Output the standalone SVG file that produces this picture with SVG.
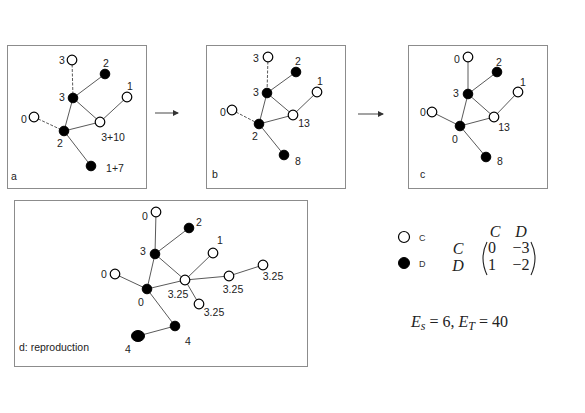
<svg xmlns="http://www.w3.org/2000/svg" width="585" height="413" viewBox="0 0 585 413">
<defs>
<marker id="ah" markerWidth="6" markerHeight="6" refX="5" refY="3" orient="auto" markerUnits="userSpaceOnUse">
<path d="M0,0 L6,3 L0,6 z" fill="#333"/>
</marker>
<style>
.box{fill:#fff;stroke:#8c8c8c;stroke-width:1}
.e{stroke:#5a5a5a;stroke-width:1;fill:none}
.ed{stroke:#5a5a5a;stroke-width:1;fill:none;stroke-dasharray:3,1.5}
.w{fill:#fff;stroke:#000;stroke-width:1.2}
.b{fill:#000;stroke:#000;stroke-width:1}
.t{font-family:"Liberation Sans",Arial,sans-serif;font-size:10.5px;fill:#222;text-anchor:middle}
.tl{font-family:"Liberation Sans",Arial,sans-serif;font-size:10.5px;fill:#222}
.lg{font-family:"Liberation Sans",Arial,sans-serif;font-size:9px;fill:#333}
.m{font-family:"Liberation Serif","Times New Roman",serif;font-size:16px;fill:#222}
.mi{font-family:"Liberation Serif","Times New Roman",serif;font-size:16px;fill:#222;font-style:italic}
</style>
</defs>
<rect width="585" height="413" fill="#fff"/>
<g id="frames">
<rect class="box" x="7.5" y="45.5" width="139" height="143"/>
<rect class="box" x="206.5" y="45.5" width="139" height="143"/>
<rect class="box" x="408.5" y="45.5" width="139" height="143"/>
<rect class="box" x="14.5" y="200.5" width="293" height="166"/>
</g>
<g id="connectors">
<line class="ed" x1="72" y1="60" x2="73" y2="98"/>
<line class="e" x1="105" y1="74" x2="73" y2="98"/>
<line class="e" x1="73" y1="98" x2="100" y2="122"/>
<line class="e" x1="100" y1="122" x2="127" y2="97"/>
<line class="e" x1="73" y1="98" x2="64" y2="131"/>
<line class="ed" x1="34" y1="117" x2="64" y2="131"/>
<line class="e" x1="64" y1="131" x2="100" y2="122"/>
<line class="e" x1="64" y1="131" x2="91" y2="166"/>

<line class="ed" x1="268" y1="57" x2="267" y2="93"/>
<line class="e" x1="296" y1="72" x2="267" y2="93"/>
<line class="e" x1="267" y1="93" x2="293" y2="115"/>
<line class="e" x1="293" y1="115" x2="317" y2="92"/>
<line class="e" x1="267" y1="93" x2="259" y2="124"/>
<line class="ed" x1="232" y1="110" x2="259" y2="124"/>
<line class="e" x1="259" y1="124" x2="293" y2="115"/>
<line class="e" x1="259" y1="124" x2="284" y2="155"/>

<line class="e" x1="468" y1="57" x2="468" y2="94"/>
<line class="e" x1="497" y1="72" x2="468" y2="94"/>
<line class="e" x1="468" y1="94" x2="494" y2="117"/>
<line class="e" x1="494" y1="117" x2="518" y2="92"/>
<line class="e" x1="468" y1="94" x2="460" y2="126"/>
<line class="e" x1="432" y1="112" x2="460" y2="126"/>
<line class="e" x1="460" y1="126" x2="494" y2="117"/>
<line class="e" x1="460" y1="126" x2="486" y2="157"/>

<line class="e" x1="156" y1="212" x2="155" y2="254"/>
<line class="e" x1="189" y1="228" x2="155" y2="254"/>
<line class="e" x1="155" y1="254" x2="185" y2="280"/>
<line class="e" x1="155" y1="254" x2="147" y2="289"/>
<line class="e" x1="213" y1="253" x2="185" y2="280"/>
<line class="e" x1="115" y1="274" x2="147" y2="289"/>
<line class="e" x1="147" y1="289" x2="185" y2="280"/>
<line class="e" x1="185" y1="280" x2="229" y2="276"/>
<line class="e" x1="229" y1="276" x2="263" y2="265"/>
<line class="e" x1="185" y1="280" x2="199" y2="304"/>
<line class="e" x1="147" y1="289" x2="175" y2="326"/>
<line class="e" x1="175" y1="326" x2="138" y2="336"/>

<line x1="155" y1="113" x2="178" y2="113" stroke="#666" stroke-width="1.2" marker-end="url(#ah)"/>
<line x1="358" y1="114" x2="383" y2="114" stroke="#666" stroke-width="1.2" marker-end="url(#ah)"/>
</g>
<g id="panel-a">
<g id="a-n1"><circle class="w" cx="72" cy="60" r="4.8"/><text class="t" x="62" y="64">3</text></g>
<g id="a-n2"><circle class="b" cx="105" cy="74" r="4.8"/><text class="t" x="106" y="67">2</text></g>
<g id="a-n3"><circle class="b" cx="73" cy="98" r="4.8"/><text class="t" x="62" y="101">3</text></g>
<g id="a-n4"><circle class="w" cx="127" cy="97" r="4.8"/><text class="t" x="130" y="90">1</text></g>
<g id="a-n5"><circle class="w" cx="34" cy="117" r="4.8"/><text class="t" x="24" y="123">0</text></g>
<g id="a-n6"><circle class="w" cx="100" cy="122" r="4.8"/><text class="t" x="113" y="141">3+10</text></g>
<g id="a-n7"><circle class="b" cx="64" cy="131" r="4.8"/><text class="t" x="60" y="147">2</text></g>
<g id="a-n8"><circle class="b" cx="91" cy="166" r="4.8"/><text class="t" x="115" y="172">1+7</text></g>
<text class="tl" x="11" y="180">a</text>
</g>
<g id="panel-b">
<g id="b-n1"><circle class="w" cx="268" cy="57" r="4.8"/><text class="t" x="256" y="62">3</text></g>
<g id="b-n2"><circle class="b" cx="296" cy="72" r="4.8"/><text class="t" x="298" y="65">2</text></g>
<g id="b-n3"><circle class="b" cx="267" cy="93" r="4.8"/><text class="t" x="256" y="96">3</text></g>
<g id="b-n4"><circle class="w" cx="317" cy="92" r="4.8"/><text class="t" x="320" y="85">1</text></g>
<g id="b-n5"><circle class="w" cx="232" cy="110" r="4.8"/><text class="t" x="223" y="116">0</text></g>
<g id="b-n6"><circle class="w" cx="293" cy="115" r="4.8"/><text class="t" x="304" y="127">13</text></g>
<g id="b-n7"><circle class="b" cx="259" cy="124" r="4.8"/><text class="t" x="255" y="140">2</text></g>
<g id="b-n8"><circle class="b" cx="284" cy="155" r="4.8"/><text class="t" x="298" y="165">8</text></g>
<text class="tl" x="212" y="178">b</text>
</g>
<g id="panel-c">
<g id="c-n1"><circle class="w" cx="468" cy="57" r="4.8"/><text class="t" x="457" y="63">0</text></g>
<g id="c-n2"><circle class="b" cx="497" cy="72" r="4.8"/><text class="t" x="499" y="66">2</text></g>
<g id="c-n3"><circle class="b" cx="468" cy="94" r="4.8"/><text class="t" x="456" y="97">3</text></g>
<g id="c-n4"><circle class="w" cx="518" cy="92" r="4.8"/><text class="t" x="523" y="86">1</text></g>
<g id="c-n5"><circle class="w" cx="432" cy="112" r="4.8"/><text class="t" x="423" y="116">0</text></g>
<g id="c-n6"><circle class="w" cx="494" cy="117" r="4.8"/><text class="t" x="504" y="131">13</text></g>
<g id="c-n7"><circle class="b" cx="460" cy="126" r="4.8"/><text class="t" x="455" y="143">0</text></g>
<g id="c-n8"><circle class="b" cx="486" cy="157" r="4.8"/><text class="t" x="500" y="165">8</text></g>
<text class="tl" x="420" y="178">c</text>
</g>
<g id="panel-d">
<g id="d-n1"><circle class="w" cx="156" cy="212" r="4.8"/><text class="t" x="145" y="220">0</text></g>
<g id="d-n2"><circle class="b" cx="189" cy="228" r="4.8"/><text class="t" x="199" y="226">2</text></g>
<g id="d-n3"><circle class="b" cx="155" cy="254" r="4.8"/><text class="t" x="143" y="255">3</text></g>
<g id="d-n4"><circle class="w" cx="213" cy="253" r="4.8"/><text class="t" x="220" y="244">1</text></g>
<g id="d-n5"><circle class="w" cx="115" cy="274" r="4.8"/><text class="t" x="104" y="278">0</text></g>
<g id="d-n6"><circle class="w" cx="185" cy="280" r="4.8"/><text class="t" x="178" y="298">3.25</text></g>
<g id="d-n7"><circle class="w" cx="229" cy="276" r="4.8"/><text class="t" x="233" y="293">3.25</text></g>
<g id="d-n8"><circle class="w" cx="263" cy="265" r="4.8"/><text class="t" x="273" y="280">3.25</text></g>
<g id="d-n9"><circle class="w" cx="199" cy="304" r="4.8"/><text class="t" x="214" y="316">3.25</text></g>
<g id="d-n10"><circle class="b" cx="147" cy="289" r="4.8"/><text class="t" x="141" y="306">0</text></g>
<g id="d-n11"><circle class="b" cx="175" cy="326" r="4.8"/><text class="t" x="188" y="345">4</text></g>
<g id="d-n12"><ellipse class="b" cx="138" cy="336" rx="6.5" ry="5.5"/><text class="t" x="128" y="353">4</text></g>
<text class="tl" x="19" y="351">d: reproduction</text>
</g>
<g id="legend">
<g id="legend-c"><circle class="w" cx="404" cy="237" r="5.5"/><text class="lg" x="419" y="241">C</text></g>
<g id="legend-d"><circle class="b" cx="404" cy="263" r="5.5"/><text class="lg" x="419" y="267">D</text></g>
</g>
<g id="matrix">
<text class="mi" x="495" y="237" text-anchor="middle">C</text>
<text class="mi" x="521" y="237" text-anchor="middle">D</text>
<text class="mi" x="458" y="254" text-anchor="middle">C</text>
<text class="mi" x="458" y="271" text-anchor="middle">D</text>
<path d="M487,242 Q479,258 487,275" fill="none" stroke="#222" stroke-width="1.1"/>
<path d="M531,242 Q539,258 531,275" fill="none" stroke="#222" stroke-width="1.1"/>
<text class="m" x="492" y="253" text-anchor="middle">0</text>
<text class="m" x="521" y="253" text-anchor="middle">−3</text>
<text class="m" x="492" y="270" text-anchor="middle">1</text>
<text class="m" x="521" y="270" text-anchor="middle">−2</text>
</g>
<g id="equation">
<text class="m" x="411" y="327" font-size="17"><tspan font-style="italic">E</tspan><tspan font-style="italic" font-size="12" dy="3">s</tspan><tspan dy="-3"> = 6, </tspan><tspan font-style="italic">E</tspan><tspan font-style="italic" font-size="12" dy="3">T</tspan><tspan dy="-3"> = 40</tspan></text>
</g>
</svg>
